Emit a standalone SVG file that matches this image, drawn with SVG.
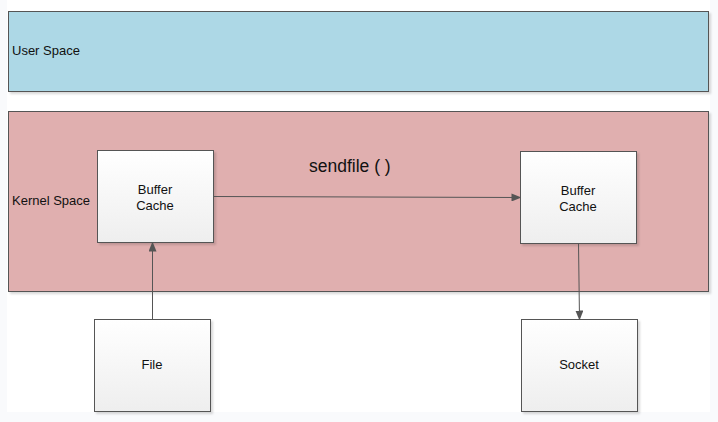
<svg xmlns="http://www.w3.org/2000/svg" width="718" height="422" viewBox="0 0 718 422">
<defs>
<linearGradient id="g" x1="0" y1="0" x2="0" y2="1"><stop offset="0" stop-color="#ffffff"/><stop offset="1" stop-color="#eeeeee"/></linearGradient>
<marker id="ah" markerWidth="10" markerHeight="8" refX="9" refY="4" orient="auto" markerUnits="userSpaceOnUse"><path d="M0,0 L10,4 L0,8 z" fill="#555"/></marker>
<filter id="sh" x="-5%" y="-5%" width="110%" height="115%"><feDropShadow dx="2" dy="2" stdDeviation="1" flood-color="#000" flood-opacity="0.15"/></filter>
</defs>
<style>
text{font-family:"Liberation Sans",Arial,sans-serif;fill:#111;}
.lbl{font-size:13px;}
.nd{fill:url(#g);stroke:#555;stroke-width:1;filter:url(#sh);}
.cn{stroke:#555;stroke-width:1;fill:none;marker-end:url(#ah);}
</style>
<rect x="0" y="0" width="718" height="422" fill="#f9fafc"/>
<rect x="7" y="0" width="703" height="412" fill="#ffffff"/>
<g id="user-space"><rect x="8.5" y="11.5" width="700" height="80" fill="#add8e6" stroke="#555" filter="url(#sh)"/><text class="lbl" x="12" y="55">User Space</text></g>
<g id="kernel-space"><rect x="8.5" y="111.5" width="700" height="180" fill="#e0afaf" stroke="#555" filter="url(#sh)"/><text class="lbl" x="12" y="205">Kernel Space</text></g>
<text x="309" y="172" style="font-size:17.5px">sendfile ( )</text>
<g id="buffer-cache-1"><rect class="nd" x="97.5" y="150.5" width="116" height="92"/><text class="lbl" x="155" y="194" text-anchor="middle">Buffer</text><text class="lbl" x="155" y="210" text-anchor="middle">Cache</text></g>
<g id="buffer-cache-2"><rect class="nd" x="520.5" y="151.5" width="116" height="92"/><text class="lbl" x="578" y="195" text-anchor="middle">Buffer</text><text class="lbl" x="578" y="211" text-anchor="middle">Cache</text></g>
<g id="file"><rect class="nd" x="94.5" y="319.5" width="116" height="92"/><text class="lbl" x="152" y="369" text-anchor="middle">File</text></g>
<g id="socket"><rect class="nd" x="521.5" y="319.5" width="116" height="92"/><text class="lbl" x="579" y="369" text-anchor="middle">Socket</text></g>
<g id="connectors">
<path class="cn" d="M213.5,196.5 L520.5,197.5"/>
<path class="cn" d="M152.5,319.5 L152.5,242.5"/>
<path class="cn" d="M578.5,243.5 L579.5,319.5"/>
</g>
</svg>
